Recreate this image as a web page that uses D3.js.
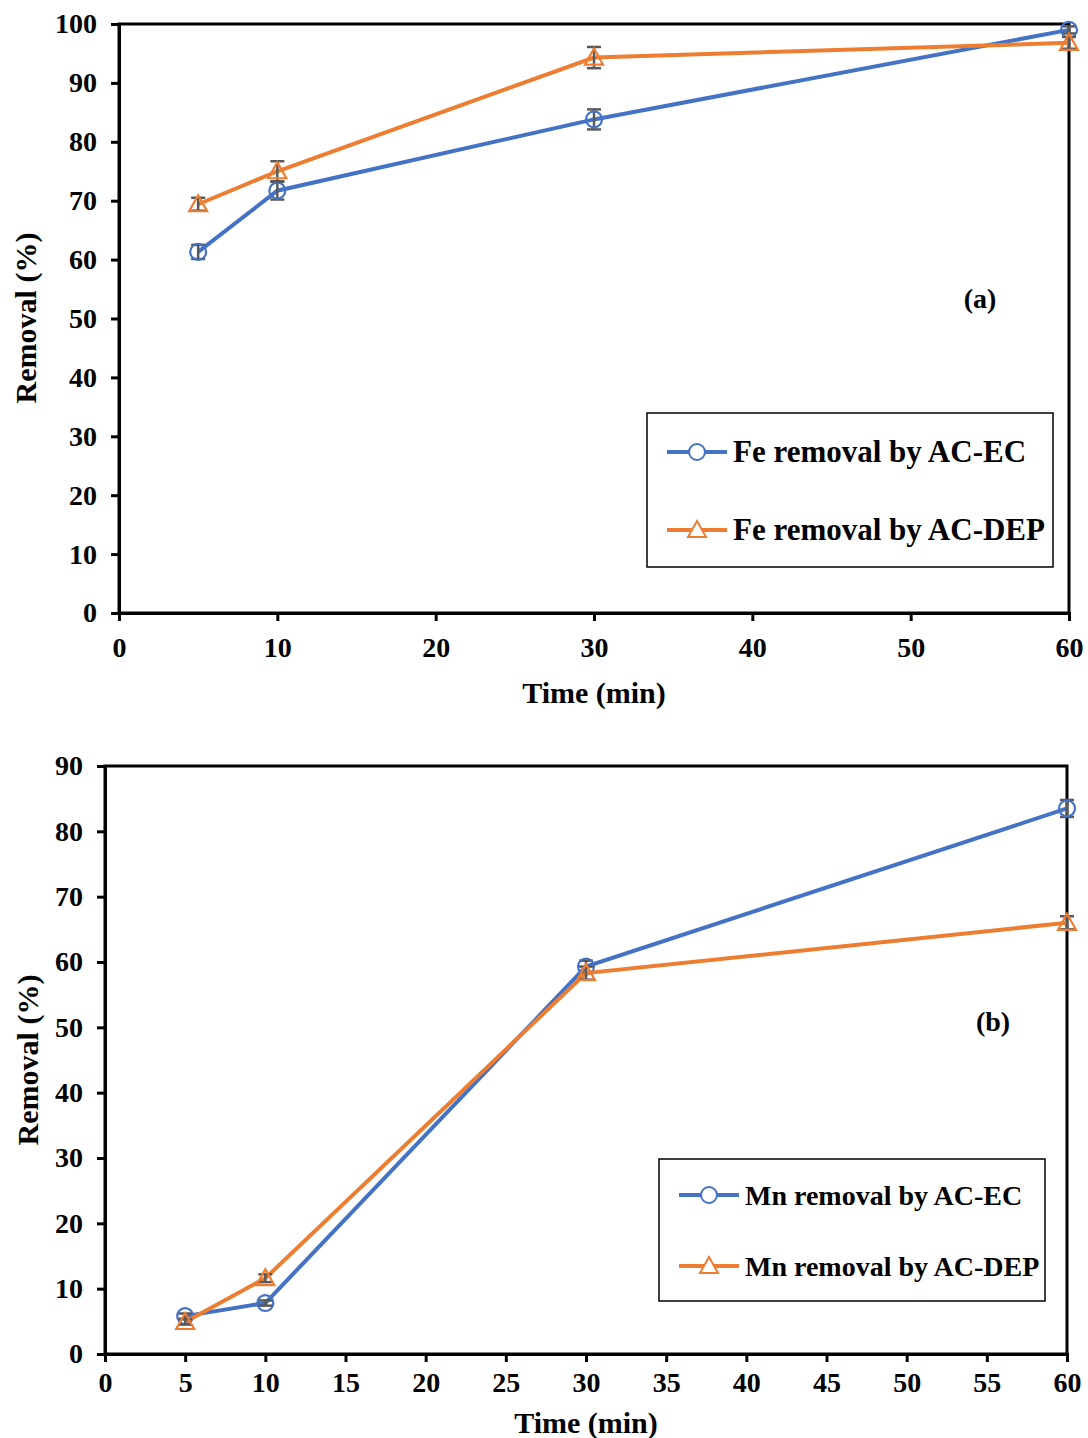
<!DOCTYPE html>
<meta charset="utf-8">
<style>
body { margin: 0; background: #fff; }
svg { font-family: "Liberation Serif", "Times New Roman", serif; font-weight: bold; }
</style>
<svg width="1088" height="1438"></svg>
<script src="https://d3js.org/d3.v7.min.js"></script>
<script>

// panel (a) - Fe removal
var timeA = [5, 10, 30, 60];
var feEC = [61.3, 71.7, 83.8, 99.0];
var feECerr = [1.2, 1.5, 1.7, 0.6];
var feDEP = [69.4, 75.0, 94.3, 96.8];
var feDEPerr = [1.1, 1.7, 1.8, 1.0];
var xTicksA = [0, 10, 20, 30, 40, 50, 60];
var yTicksA = [0, 10, 20, 30, 40, 50, 60, 70, 80, 90, 100];

// panel (b) - Mn removal
var timeB = [5, 10, 30, 60];
var mnEC = [5.8, 7.8, 59.3, 83.5];
var mnECerr = [0.4, 0.4, 0.9, 1.3];
var mnDEP = [4.9, 11.6, 58.3, 66.0];
var mnDEPerr = [0.4, 0.6, 1.0, 1.0];
var xTicksB = [0, 5, 10, 15, 20, 25, 30, 35, 40, 45, 50, 55, 60];
var yTicksB = [0, 10, 20, 30, 40, 50, 60, 70, 80, 90];

var blue = "#4472c4", orange = "#ed7d31";
var svg = d3.select("svg");

function panel(o) {
  var x = d3.scaleLinear().domain([0, 60]).range([o.left, o.right]);
  var y = d3.scaleLinear().domain([0, o.ymax]).range([o.bottom, o.top]);
  var g = svg.append("g");

  // frame
  g.append("rect")
      .attr("x", o.left).attr("y", o.top)
      .attr("width", o.right - o.left).attr("height", o.bottom - o.top)
      .attr("fill", "none").attr("stroke", "#000").attr("stroke-width", 3);

  var xa = g.append("g")
      .attr("transform", "translate(0," + o.bottom + ")")
      .call(d3.axisBottom(x).tickValues(o.xticks).tickSize(8).tickPadding(o.xpad).tickFormat(d3.format("d")));
  var ya = g.append("g")
      .attr("transform", "translate(" + o.left + ",0)")
      .call(d3.axisLeft(y).tickValues(o.yticks).tickSize(8).tickPadding(14).tickFormat(d3.format("d")));
  [xa, ya].forEach(function(a) {
    a.select(".domain").attr("stroke-width", 3);
    a.selectAll(".tick line").attr("stroke-width", 3);
    a.selectAll("text").attr("font-size", 28).attr("font-family", "Liberation Serif").attr("font-weight", "bold").attr("fill", "#000");
  });

  g.append("text")
      .attr("x", (o.left + o.right) / 2).attr("y", o.bottom + o.xlabDy)
      .attr("text-anchor", "middle").attr("font-size", 30)
      .text("Time (min)");
  g.append("text")
      .attr("transform", "translate(" + o.ylabX + "," + o.ylabY + ") rotate(-90)")
      .attr("text-anchor", "middle").attr("font-size", 30)
      .text("Removal (%)");

  g.append("text")
      .attr("x", o.tagX).attr("y", o.tagY)
      .attr("text-anchor", "middle").attr("font-size", 28)
      .text(o.tag);

  var line = d3.line().x(function(d) { return x(d.t); }).y(function(d) { return y(d.v); });

  o.series.forEach(function(s) {
    var pts = o.time.map(function(t, i) { return {t: t, v: s.values[i], e: s.err[i]}; });
    g.append("path").datum(pts)
        .attr("d", line).attr("fill", "none")
        .attr("stroke", s.color).attr("stroke-width", 4);

    var eb = g.append("g").selectAll("g").data(pts).enter().append("g")
        .attr("stroke", "#595959").attr("stroke-width", 2.5);
    eb.append("line")
        .attr("x1", function(d) { return x(d.t); }).attr("x2", function(d) { return x(d.t); })
        .attr("y1", function(d) { return y(d.v - d.e); }).attr("y2", function(d) { return y(d.v + d.e); });
    [-1, 1].forEach(function(k) {
      eb.append("line")
          .attr("x1", function(d) { return x(d.t) - 7; }).attr("x2", function(d) { return x(d.t) + 7; })
          .attr("y1", function(d) { return y(d.v + k * d.e); }).attr("y2", function(d) { return y(d.v + k * d.e); });
    });

    g.append("g").selectAll("path").data(pts).enter().append("path")
        .attr("transform", function(d) { return "translate(" + x(d.t) + "," + y(d.v) + ")"; })
        .attr("d", s.shape)
        .attr("fill", "none").attr("stroke", s.color).attr("stroke-width", 2.2);
  });

  // legend
  var lg = g.append("g");
  lg.append("rect")
      .attr("x", o.leg.x).attr("y", o.leg.y).attr("width", o.leg.w).attr("height", o.leg.h)
      .attr("fill", "#fff").attr("stroke", "#000").attr("stroke-width", 1.5);
  o.series.forEach(function(s, i) {
    var yy = o.leg.y + o.leg.r0 + i * o.leg.dy;
    var x0 = o.leg.x + 20;
    lg.append("line").attr("x1", x0).attr("x2", x0 + 60).attr("y1", yy).attr("y2", yy)
        .attr("stroke", s.color).attr("stroke-width", 4);
    lg.append("path").attr("transform", "translate(" + (x0 + 30) + "," + yy + ")")
        .attr("d", s.shape).attr("fill", "#fff").attr("stroke", s.color).attr("stroke-width", 2);
    lg.append("text").attr("x", x0 + 66).attr("y", yy + 10)
        .attr("font-size", o.leg.fs).text(s.name);
  });
}

var circle = d3.symbol().type(d3.symbolCircle).size(200)();
var tri = "M0,-9L9,7L-9,7Z";

panel({
  left: 119, right: 1069, top: 24, bottom: 613, ymax: 100,
  xticks: xTicksA, yticks: yTicksA, time: timeA, xpad: 16, xlabDy: 90,
  ylabX: 36, ylabY: 318, tag: "(a)", tagX: 980, tagY: 308,
  series: [
    {name: "Fe removal by AC-EC", values: feEC, err: feECerr, color: blue, shape: circle},
    {name: "Fe removal by AC-DEP", values: feDEP, err: feDEPerr, color: orange, shape: tri}
  ],
  leg: {x: 647, y: 413, w: 406, h: 154, r0: 39, dy: 78, fs: 31}
});

panel({
  left: 105, right: 1067, top: 766, bottom: 1354, ymax: 90,
  xticks: xTicksB, yticks: yTicksB, time: timeB, xpad: 10, xlabDy: 79,
  ylabX: 38, ylabY: 1060, tag: "(b)", tagX: 993, tagY: 1031,
  series: [
    {name: "Mn removal by AC-EC", values: mnEC, err: mnECerr, color: blue, shape: circle},
    {name: "Mn removal by AC-DEP", values: mnDEP, err: mnDEPerr, color: orange, shape: tri}
  ],
  leg: {x: 659, y: 1159, w: 386, h: 142, r0: 36, dy: 71, fs: 28}
});
</script>
